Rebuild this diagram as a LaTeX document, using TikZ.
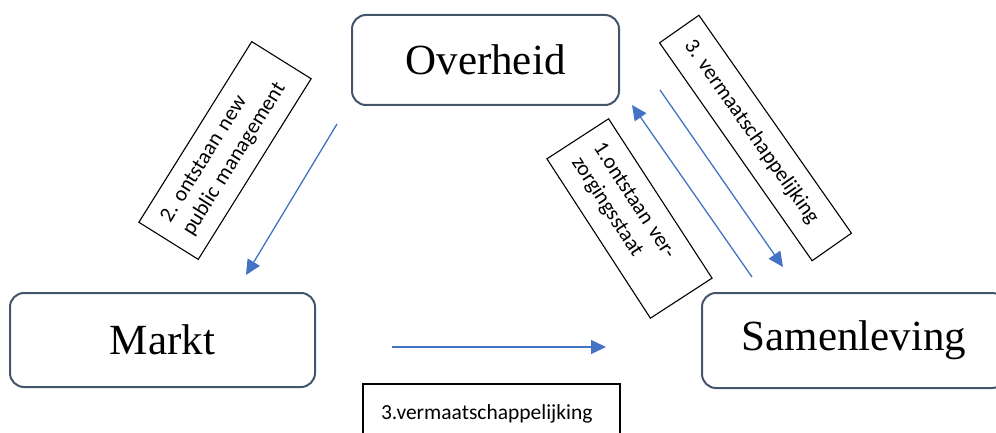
\documentclass[tikz,border=0pt]{standalone}
\usepackage{fontspec}
\setmainfont{Liberation Serif}
\newfontfamily\calfont{Carlito}
\usetikzlibrary{arrows.meta}
\definecolor{boxline}{RGB}{68,84,106}
\definecolor{arrblue}{RGB}{68,114,196}
\begin{document}
\frenchspacing
\begin{tikzpicture}[x=1pt,y=-1pt,
  mainbox/.style={draw=boxline, line width=2pt, rounded corners=14pt,
    font=\fontsize{43}{50}\selectfont, inner sep=0pt},
  lblbox/.style={draw=black, line width=1.1pt, font=\calfont\fontsize{21.5}{26}\selectfont\frenchspacing,
    align=left, inner xsep=16pt, inner ysep=0pt},
  flow/.style={draw=arrblue, line width=1.3pt, -{Triangle[length=15pt,width=14pt]}}]
\useasboundingbox (0,0) rectangle (996,433);
\clip (0,0) rectangle (996,433);
% main boxes
\node[mainbox, minimum width=267pt, minimum height=90pt] (overheid) at (485.5,60) {Overheid};
\node[mainbox, minimum width=305pt, minimum height=94pt] (markt) at (162.5,340) {Markt};
\node[mainbox, minimum width=304pt, minimum height=95pt] (samen) at (854,340.5) {Samenleving};
% label boxes
\node[lblbox, rotate=58, minimum width=213pt, minimum height=70pt, text width=181pt]
  (lnpm) at (225,150.5) {2. ontstaan new\\public management};
\node[lblbox, rotate=-57, minimum width=190pt, minimum height=73.5pt, text width=158pt]
  (lverz) at (629.5,218.5) {1.ontstaan ver-\\zorgingsstaat};
\node[lblbox, rotate=-55, minimum width=266pt, minimum height=48pt, text width=234pt]
  (lverm) at (755.5,138) {3. vermaatschappelijking};
\node[lblbox, inner xsep=18pt, minimum width=257pt, minimum height=60pt, text width=221pt]
  (lbottom) at (491.5,414) {3.vermaatschappelijking};
% arrow ends
\coordinate (a1s) at (337,124);
\coordinate (a1e) at (246,275);
\coordinate (a2s) at (392,347);
\coordinate (a2e) at (606,347);
\coordinate (a3s) at (752,277);
\coordinate (a3e) at (632,105);
\coordinate (a4s) at (660,90);
\coordinate (a4e) at (783,267);
\draw[flow] (a1s) -- (a1e);
\draw[flow] (a2s) -- (a2e);
\draw[flow] (a3s) -- (a3e);
\draw[flow] (a4s) -- (a4e);
\end{tikzpicture}
\end{document}
